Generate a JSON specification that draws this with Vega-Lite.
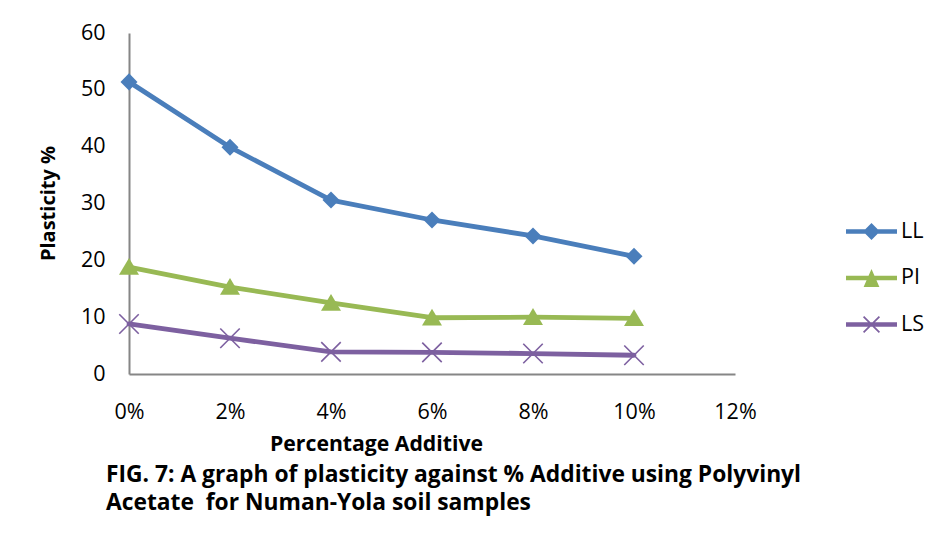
{
  "$schema": "https://vega.github.io/schema/vega-lite/v6.json",
  "width": 606,
  "height": 341,
  "autosize": {"type": "none"},
  "padding": {"left": 129, "top": 33, "right": 202, "bottom": 169},
  "background": "white",
  "config": {
    "view": {"stroke": null},
    "font": "Open Sans"
  },
  "title": {
    "text": ["FIG. 7: A graph of plasticity against % Additive using Polyvinyl", "Acetate\u00a0 for Numan-Yola soil samples"],
    "orient": "bottom",
    "anchor": "start",
    "frame": "group",
    "dx": -23,
    "offset": 10,
    "font": "Open Sans",
    "fontSize": 22.8,
    "fontWeight": "bold",
    "lineHeight": 28,
    "color": "#000000"
  },
  "data": {
    "values": [
      {"additive": 0, "plasticity": 51.4, "series": "LL"},
      {"additive": 2, "plasticity": 39.9, "series": "LL"},
      {"additive": 4, "plasticity": 30.6, "series": "LL"},
      {"additive": 6, "plasticity": 27.1, "series": "LL"},
      {"additive": 8, "plasticity": 24.3, "series": "LL"},
      {"additive": 10, "plasticity": 20.7, "series": "LL"},
      {"additive": 0, "plasticity": 18.8, "series": "PI"},
      {"additive": 2, "plasticity": 15.3, "series": "PI"},
      {"additive": 4, "plasticity": 12.5, "series": "PI"},
      {"additive": 6, "plasticity": 9.9, "series": "PI"},
      {"additive": 8, "plasticity": 10.0, "series": "PI"},
      {"additive": 10, "plasticity": 9.8, "series": "PI"},
      {"additive": 0, "plasticity": 8.8, "series": "LS"},
      {"additive": 2, "plasticity": 6.3, "series": "LS"},
      {"additive": 4, "plasticity": 3.9, "series": "LS"},
      {"additive": 6, "plasticity": 3.8, "series": "LS"},
      {"additive": 8, "plasticity": 3.6, "series": "LS"},
      {"additive": 10, "plasticity": 3.3, "series": "LS"}
    ]
  },
  "encoding": {
    "x": {
      "field": "additive",
      "type": "quantitative",
      "scale": {"domain": [0, 12], "nice": false, "zero": false},
      "axis": {
        "values": [0, 2, 4, 6, 8, 10, 12],
        "labelExpr": "datum.value + '%'",
        "grid": false,
        "ticks": false,
        "domainColor": "#868686",
        "domainWidth": 2,
        "labelFont": "Open Sans",
        "labelFontSize": 21.5,
        "labelColor": "#000000",
        "labelPadding": 27,
        "labelFlush": false,
        "title": "Percentage Additive",
        "titleFont": "Open Sans",
        "titleFontSize": 21.2,
        "titleFontWeight": "bold",
        "titleColor": "#000000",
        "titleX": 247,
        "titleY": 76,
        "titleAlign": "center",
        "titleBaseline": "alphabetic"
      }
    },
    "y": {
      "field": "plasticity",
      "type": "quantitative",
      "scale": {"domain": [0, 60], "nice": false},
      "axis": {
        "values": [0, 10, 20, 30, 40, 50, 60],
        "grid": false,
        "ticks": false,
        "domainColor": "#868686",
        "domainWidth": 2,
        "labelFont": "Open Sans",
        "labelFontSize": 21.5,
        "labelColor": "#000000",
        "labelPadding": 24,
        "labelFlush": false,
        "title": "Plasticity %",
        "titleFont": "Open Sans",
        "titleFontSize": 20,
        "titleFontWeight": "bold",
        "titleColor": "#000000",
        "titleX": -81,
        "titleY": 170,
        "titleAngle": -90,
        "titleAlign": "center",
        "titleBaseline": "middle"
      }
    },
    "color": {
      "field": "series",
      "type": "nominal",
      "scale": {"domain": ["LL", "PI", "LS"], "range": ["#4A7EBB", "#98B954", "#7D60A0"]},
      "legend": {
        "title": null,
        "orient": "none",
        "legendX": 717,
        "legendY": 173,
        "direction": "vertical",
        "padding": 0,
        "symbolSize": 2601,
        "rowPadding": 10.5,
        "labelOffset": 4,
        "labelFont": "Open Sans",
        "labelFontSize": 21.5,
        "labelColor": "#000000",
        "encode": {
          "symbols": {
            "update": {
              "shape": {"signal": "datum.value === 'LL' ? 'M-1,-0.086H1V0.086H-1Z M0,-0.33L0.33,0L0,0.33L-0.33,0Z' : datum.value === 'PI' ? 'M-1,-0.086H1V0.086H-1Z M0,-0.35L0.31,0.35L-0.31,0.35Z' : 'M-1,-0.086H1V0.086H-1Z M-0.286,-0.334L0.334,0.286L0.286,0.334L-0.334,-0.286Z M-0.334,0.286L0.286,-0.334L0.334,-0.286L-0.286,0.334Z'"},
              "size": {"value": 2601},
              "fill": {"scale": "color", "field": "value"},
              "stroke": {"value": "transparent"},
              "strokeWidth": {"value": 0},
              "opacity": {"value": 1},
              "fillOpacity": {"value": 1}
            }
          }
        }
      }
    }
  },
  "layer": [
    {
      "mark": {"type": "line", "strokeWidth": 4.8, "strokeJoin": "round", "strokeCap": "round"},
      "encoding": {
        "detail": {"field": "series"}
      }
    },
    {
      "transform": [{"filter": "datum.series === 'LL'"}],
      "mark": {"type": "point", "filled": true, "opacity": 1, "shape": "M0,-1L1,0L0,1L-1,0Z", "size": 290}
    },
    {
      "transform": [{"filter": "datum.series === 'PI'"}],
      "mark": {"type": "point", "filled": true, "opacity": 1, "shape": "M0,-1L1.1,0.85L-1.1,0.85Z", "size": 330}
    },
    {
      "transform": [{"filter": "datum.series === 'LS'"}],
      "mark": {"type": "point", "filled": false, "opacity": 1, "shape": "M-1,-1L1,1M-1,1L1,-1", "size": 380, "strokeWidth": 1.6}
    }
  ]
}
